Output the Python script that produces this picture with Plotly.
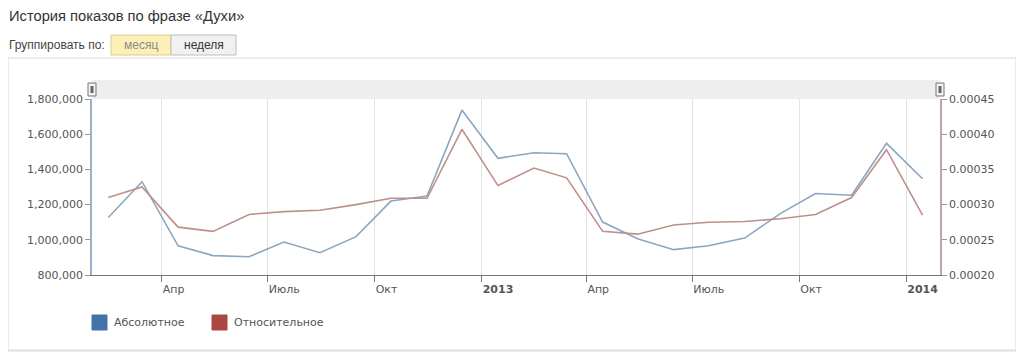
import plotly.graph_objects as go

# ---- data ----
months = ["2012-02-15", "2012-03-15", "2012-04-15", "2012-05-15", "2012-06-15", "2012-07-15",
          "2012-08-15", "2012-09-15", "2012-10-15", "2012-11-15", "2012-12-15", "2013-01-15",
          "2013-02-15", "2013-03-15", "2013-04-15", "2013-05-15", "2013-06-15", "2013-07-15",
          "2013-08-15", "2013-09-15", "2013-10-15", "2013-11-15", "2013-12-15", "2014-01-15"]
absolute = [1127000, 1330000, 966000, 910000, 904000, 987000, 927000, 1018000, 1220000, 1249000,
            1737000, 1463000, 1495000, 1489000, 1101000, 1006000, 944000, 966000, 1010000, 1150000,
            1263000, 1253000, 1548000, 1347000]
relative = [0.000310, 0.000325, 0.000268, 0.000262, 0.000286, 0.000290, 0.000292, 0.000300,
            0.000309, 0.000309, 0.000407, 0.000327, 0.000352, 0.000338, 0.000262, 0.000258,
            0.000271, 0.000275, 0.000276, 0.000280, 0.000286, 0.000310, 0.000378, 0.000285]
tick_dates = ["2012-04-01", "2012-07-01", "2012-10-01", "2013-01-01",
              "2013-04-01", "2013-07-01", "2013-10-01", "2014-01-01"]
tick_labels = ["Апр", "Июль", "Окт", "<b>2013</b>", "Апр", "Июль", "Окт", "<b>2014</b>"]
series_names = ["Абсолютное", "Относительное"]
series_colors = ["#4572a7", "#aa4643"]

# page is rendered inside body with 8px default margin
OFF = 8
FW, FH = 1024 - 2 * OFF, 363 - 2 * OFF
# plot area in page pixels
PL, PR, PT, PB = 92, 940, 99, 275
L, R, T, B = PL - OFF, FW - (PR - OFF), PT - OFF, FH - (PB - OFF)
PW, PH = PR - PL, PB - PT


def px(x):
    return (x - PL) / PW


def py(y):
    return (PB - y) / PH


BLUE_LINE = "#8ba7c0"
RED_LINE = "#bf8f8b"
AXFONT = dict(family="DejaVu Sans", size=11, color="#555555")
UIFONT = "Liberation Sans, Arial"

fig = go.Figure()
fig.add_trace(go.Scatter(x=months, y=absolute, mode="lines", name=series_names[0],
                         line=dict(color=BLUE_LINE, width=1.6), showlegend=False))
fig.add_trace(go.Scatter(x=months, y=relative, mode="lines", name=series_names[1], yaxis="y2",
                         line=dict(color=RED_LINE, width=1.6), showlegend=False))

shapes = []
# container box with soft shadow
shapes.append(dict(type="rect", xref="paper", yref="paper", x0=px(9), x1=px(1017), y0=py(351), y1=py(59),
                   line=dict(color="#ececec", width=2), fillcolor="rgba(0,0,0,0)", layer="below"))
shapes.append(dict(type="rect", xref="paper", yref="paper", x0=px(8), x1=px(1016), y0=py(350), y1=py(58),
                   line=dict(color="#dadada", width=1), fillcolor="white", layer="below"))
# navigator band
shapes.append(dict(type="rect", xref="paper", yref="paper", x0=0, x1=1, y0=py(99), y1=py(80),
                   line=dict(width=0), fillcolor="#eeeeee", layer="below"))
# handles
for hx in (PL, PR):
    shapes.append(dict(type="rect", xref="paper", yref="paper", x0=px(hx - 4), x1=px(hx + 4),
                       y0=py(96), y1=py(83), line=dict(color="#777777", width=1), fillcolor="#f4f4f4"))
    shapes.append(dict(type="rect", xref="paper", yref="paper", x0=px(hx - 1.5), x1=px(hx + 1.5),
                       y0=py(93), y1=py(86), line=dict(width=0), fillcolor="#666666"))
# buttons
shapes.append(dict(type="rect", xref="paper", yref="paper", x0=px(111), x1=px(171), y0=py(55), y1=py(35),
                   line=dict(color="#d9cc95", width=1), fillcolor="#fdf0b7"))
shapes.append(dict(type="rect", xref="paper", yref="paper", x0=px(171), x1=px(236), y0=py(55), y1=py(35),
                   line=dict(color="#bdbdbd", width=1), fillcolor="#f1f1f1"))

annotations = [
    dict(text="История показов по фразе «Духи»", xref="paper", yref="paper", x=px(7), y=py(16),
         xanchor="left", yanchor="middle", showarrow=False,
         font=dict(family=UIFONT, size=14.7, color="#333333")),
    dict(text="Группировать по:", xref="paper", yref="paper", x=px(7), y=py(45),
         xanchor="left", yanchor="middle", showarrow=False,
         font=dict(family=UIFONT, size=12, color="#444444")),
    dict(text="месяц", xref="paper", yref="paper", x=px(141), y=py(45),
         xanchor="center", yanchor="middle", showarrow=False,
         font=dict(family=UIFONT, size=12, color="#8a8a8a")),
    dict(text="неделя", xref="paper", yref="paper", x=px(203.5), y=py(45),
         xanchor="center", yanchor="middle", showarrow=False,
         font=dict(family=UIFONT, size=12, color="#333333")),
]

# legend (squares + labels)
leg_x = [92, 212]
for name, col, lx in zip(series_names, series_colors, leg_x):
    shapes.append(dict(type="rect", xref="paper", yref="paper", x0=px(lx), x1=px(lx + 15),
                       y0=py(330), y1=py(315), line=dict(color=col, width=1), fillcolor=col))
    annotations.append(dict(text=name, xref="paper", yref="paper", x=px(lx + 20), y=py(322.5),
                            xanchor="left", yanchor="middle", showarrow=False,
                            font=dict(family="DejaVu Sans", size=11, color="#555555")))

fig.update_layout(
    width=FW, height=FH,
    margin=dict(l=L, r=R, t=T, b=B, autoexpand=False),
    paper_bgcolor="white", plot_bgcolor="white",
    shapes=shapes, annotations=annotations, showlegend=False,
    xaxis=dict(type="date", range=["2012-02-01", "2014-01-30"], tickvals=tick_dates, ticktext=tick_labels,
               ticklabelposition="outside right", ticklabelstandoff=4,
               showgrid=True, gridcolor="#e3e3e3", gridwidth=1, showline=True, linecolor="#777777",
               linewidth=1, ticks="outside", ticklen=6, tickcolor="#777777", tickfont=AXFONT,
               zeroline=False, fixedrange=True),
    yaxis=dict(range=[800000, 1800000], dtick=200000, tickformat=",", showgrid=False, zeroline=False,
               showline=True, linecolor="#9ab0c4", linewidth=1.5, ticks="outside", ticklen=5,
               tickcolor="#999999", tickfont=AXFONT),
    yaxis2=dict(range=[0.0002, 0.00045], dtick=0.00005, tickformat=".5f", overlaying="y", side="right",
                showgrid=False, zeroline=False, showline=True, linecolor="#c4a4a2", linewidth=1.5,
                ticks="outside", ticklen=5, tickcolor="#999999", tickfont=AXFONT),
)

fig.write_html("out.html")
